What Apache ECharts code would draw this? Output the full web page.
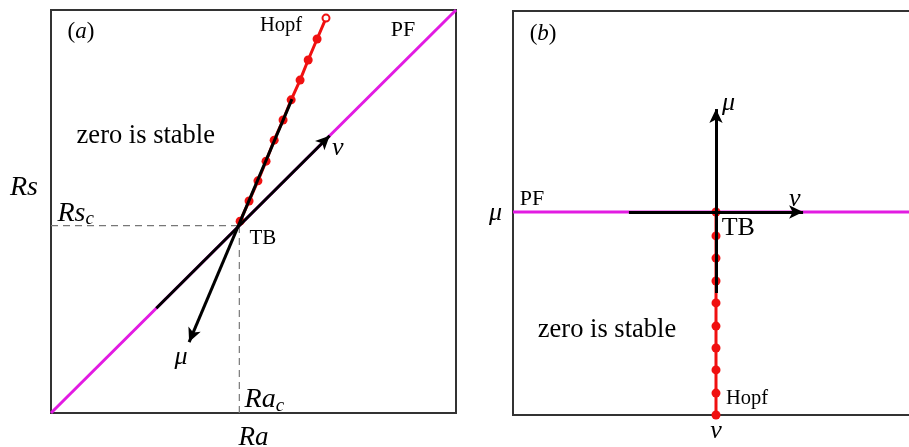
<!DOCTYPE html>
<html><head><meta charset="utf-8">
<script src="https://cdn.jsdelivr.net/npm/echarts@6/dist/echarts.min.js"></script>
<style>html,body{margin:0;padding:0;background:#fff}#c{width:909px;height:447px}</style>
</head><body><div id="c"></div>
<script>
// ---------- Panel (a): Ra–Rs plane ----------
const pfA_Ra = [0, 100];
const pfA_Rs = [0, 100];
const tbA = [46.5, 46.5];
const hopfA_Ra = [46.5, 46.7, 48.9, 51.1, 53.1, 55.1, 57.3, 59.3, 61.5, 63.5, 65.7, 67.9];
const hopfA_Rs = [46.5, 47.6, 52.6, 57.6, 62.5, 67.7, 72.7, 77.7, 82.6, 87.6, 92.8, 98.0];
const nuArrowA = [[26, 26], [68.8, 68.8]];
const muArrowA = [[59.5, 77.9], [34.1, 17.6]];
const labelsA = [
  ['(a)', 7.4, 94.5], ['Hopf', 56.8, 96.2], ['PF', 86.9, 95.0],
  ['zero is stable', 23.4, 68.8], ['ν', 70.8, 65.8], ['TB', 52.3, 43.4],
  ['μ', 32.1, 13.9], ['Rs_c', 1.6, 49.4], ['Ra_c', 47.8, 3.2]
];
// ---------- Panel (b): ν–μ plane ----------
const pfB_nu = [-100, 100];
const pfB_mu = [0, 0];
const hopfB_nu = [0, 0, 0, 0, 0, 0, 0, 0, 0, 0];
const hopfB_mu = [0, -11.8, -22.7, -34.0, -44.8, -56.2, -67.0, -77.8, -89.2, -100];
const nuArrowB = [[-42.9, 0], [42.9, 0]];
const muArrowB = [[0, -39.9], [0, 50.7]];
const labelsB = [
  ['(b)', -85.2, 87.7], ['PF', -90.6, 6.4], ['μ', 6.2, 53.7], ['ν', 38.8, 6.4],
  ['TB', 11.0, -7.9], ['zero is stable', -53.7, -58.3], ['Hopf', 15.3, -92.1]
];

const FONT = 'Liberation Serif';
const MAGENTA = '#e21be2';
const RED = '#f01010';
const INK = '#000';

function labelStyle(t) {
  const base = {show: true, position: 'inside', color: INK, fontFamily: FONT, fontSize: 22,
    textBorderWidth: 0, opacity: 1};
  if (t === '(a)' || t === '(b)') {
    return Object.assign(base, {formatter: '({i|' + t[1] + '})', fontSize: 23,
      rich: {i: {fontStyle: 'italic', fontFamily: FONT, fontSize: 23, color: INK}}});
  }
  if (t === 'ν' || t === 'μ') return Object.assign(base, {formatter: t, fontStyle: 'italic', fontSize: 26});
  if (t === 'Rs_c' || t === 'Ra_c') {
    return Object.assign(base, {position: 'right', distance: 0,
      formatter: '{m|' + t.slice(0, 2) + '}{s|c}',
      rich: {m: {fontStyle: 'italic', fontFamily: FONT, fontSize: 28, color: INK},
             s: {fontStyle: 'italic', fontFamily: FONT, fontSize: 19, color: INK, padding: [11, 0, 0, 0]}}});
  }
  if (t === 'zero is stable') return Object.assign(base, {formatter: t, fontSize: 26.5});
  if (t === 'Hopf') return Object.assign(base, {formatter: t, fontSize: 20.5});
  if (t === 'PF') return Object.assign(base, {formatter: t, fontSize: 22});
  if (t === 'TB') return Object.assign(base, {formatter: t, fontSize: 21});
  return Object.assign(base, {formatter: t});
}

function labelSeries(list, gi, sizeMap) {
  return {
    type: 'scatter', xAxisIndex: gi, yAxisIndex: gi, symbolSize: 0, silent: true, z: 10,
    itemStyle: {opacity: 1},
    data: list.map(([t, x, y]) => {
      const ls = labelStyle(t);
      if (sizeMap && sizeMap[t]) ls.fontSize = sizeMap[t];
      return {value: [x, y], label: ls};
    })
  };
}

function arrow(pts, gi) {
  return {
    type: 'line', xAxisIndex: gi, yAxisIndex: gi, data: [], z: 6, silent: true,
    markLine: {
      silent: true, symbol: ['none', 'arrow'], symbolSize: [10, 14], animation: false,
      lineStyle: {color: '#000', width: 3, type: 'solid'}, label: {show: false},
      emphasis: {disabled: true},
      data: [[{coord: pts[0]}, {coord: pts[1]}]]
    }
  };
}

const axisCommon = {type: 'value', axisLine: {show: false}, axisTick: {show: false},
  axisLabel: {show: false}, splitLine: {show: false}};

const option = {
  animation: false,
  backgroundColor: '#fff',
  grid: [
    {left: 51, top: 10, width: 405, height: 403, show: true, borderColor: '#333', borderWidth: 2,
      backgroundColor: '#fff', outerBoundsMode: 'none', containLabel: false},
    {left: 513, top: 11, width: 406, height: 404, show: true, borderColor: '#333', borderWidth: 2,
      backgroundColor: '#fff', outerBoundsMode: 'none', containLabel: false}
  ],
  xAxis: [
    Object.assign({}, axisCommon, {gridIndex: 0, min: 0, max: 100, name: 'Ra', nameLocation: 'middle', nameGap: 11,
      nameTextStyle: {fontFamily: FONT, fontStyle: 'italic', fontSize: 27, color: INK, verticalAlign: 'top'}}),
    Object.assign({}, axisCommon, {gridIndex: 1, min: -100, max: 100, name: 'ν', nameLocation: 'middle', nameGap: 3,
      nameTextStyle: {fontFamily: FONT, fontStyle: 'italic', fontSize: 26, color: INK, verticalAlign: 'top'}})
  ],
  yAxis: [
    Object.assign({}, axisCommon, {gridIndex: 0, min: 0, max: 100}),
    Object.assign({}, axisCommon, {gridIndex: 1, min: -100, max: 99, name: 'μ', nameLocation: 'middle', nameRotate: 0, nameGap: 11,
      nameTextStyle: {fontFamily: FONT, fontStyle: 'italic', fontSize: 26, color: INK, align: 'right', verticalAlign: 'middle'}})
  ],
  graphic: [
    {type: 'text', left: 10, top: 174, silent: true,
      style: {text: 'Rs', font: 'italic 28px "Liberation Serif"', fill: INK}}
  ],
  series: [
    // Panel (a) dashed guides to TB
    {type: 'line', xAxisIndex: 0, yAxisIndex: 0, symbol: 'none', silent: true, z: 2,
      lineStyle: {color: '#777', width: 1.2, type: [7, 5]}, data: [[0, tbA[1]], tbA]},
    {type: 'line', xAxisIndex: 0, yAxisIndex: 0, symbol: 'none', silent: true, z: 2,
      lineStyle: {color: '#777', width: 1.2, type: [7, 5]}, data: [[tbA[0], 0], tbA]},
    // PF line (a)
    {type: 'line', xAxisIndex: 0, yAxisIndex: 0, symbol: 'none', silent: true, z: 3,
      lineStyle: {color: MAGENTA, width: 3}, data: pfA_Ra.map((x, i) => [x, pfA_Rs[i]])},
    // Hopf (a)
    {type: 'line', xAxisIndex: 0, yAxisIndex: 0, silent: true, z: 4, clip: false,
      lineStyle: {color: RED, width: 3}, itemStyle: {color: RED},
      symbol: 'circle', symbolSize: 9, showAllSymbol: true,
      data: hopfA_Ra.map((x, i) => {
        const d = {value: [x, hopfA_Rs[i]]};
        if (i === 0) d.symbol = 'none';
        if (i === hopfA_Ra.length - 1) { d.symbol = 'emptyCircle'; d.symbolSize = 7; d.itemStyle = {color: RED, borderWidth: 2}; }
        return d;
      })},
    arrow(nuArrowA, 0),
    arrow(muArrowA, 0),
    labelSeries(labelsA, 0),
    // PF line (b)
    {type: 'line', xAxisIndex: 1, yAxisIndex: 1, symbol: 'none', silent: true, z: 3,
      lineStyle: {color: MAGENTA, width: 3}, data: pfB_nu.map((x, i) => [x, pfB_mu[i]])},
    // Hopf (b)
    {type: 'line', xAxisIndex: 1, yAxisIndex: 1, silent: true, z: 4, clip: false,
      lineStyle: {color: RED, width: 3}, itemStyle: {color: RED},
      symbol: 'circle', symbolSize: 9, showAllSymbol: true,
      data: hopfB_nu.map((x, i) => [x, hopfB_mu[i]])},
    arrow(nuArrowB, 1),
    arrow(muArrowB, 1),
    labelSeries(labelsB, 1, {'TB': 26, '(b)': 23, 'PF': 22})
  ]
};
const chart = echarts.init(document.getElementById('c'), null, {renderer: 'canvas'});
chart.setOption(option);
</script></body></html>
